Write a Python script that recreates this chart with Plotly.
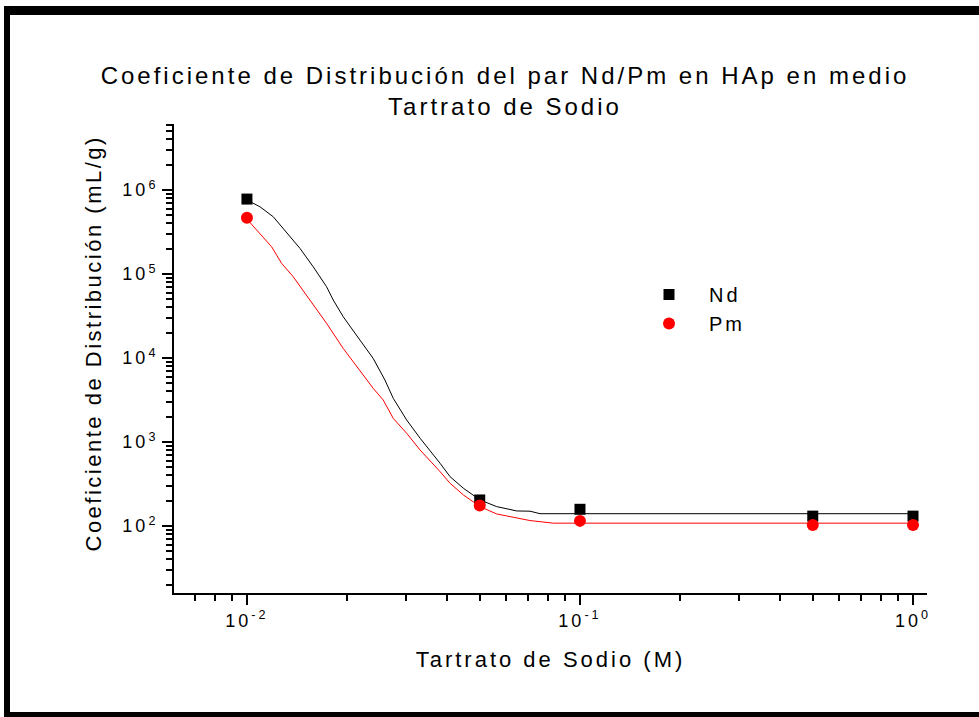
import plotly.graph_objects as go

# Measured points
conc = [0.01, 0.05, 0.1, 0.5, 1.0]
kd_nd = [7.8e5, 204, 158, 131, 131]
kd_pm = [4.68e5, 175, 115, 103, 103]

# Fitted curves
fit_nd_x = [0.01, 0.01094, 0.01199, 0.01286, 0.01443, 0.01581, 0.01734, 0.01816, 0.01946,
            0.02183, 0.02393, 0.02596, 0.02750, 0.03017, 0.03310, 0.03802, 0.04074, 0.04467,
            0.05012, 0.05623, 0.06457, 0.07080, 0.07586, 1.0]
fit_nd_y = [7.6e5, 6.32e5, 4.81e5, 3.50e5, 2.02e5, 1.22e5, 7.06e4, 4.90e4, 3.10e4,
            1.64e4, 9.91e3, 5.47e3, 3.31e3, 1.83e3, 1.11e3, 557, 386, 281,
            204, 170, 151, 150, 140, 140]
fit_pm_x = [0.01, 0.01094, 0.01186, 0.01271, 0.01377, 0.01545, 0.01734, 0.01946, 0.02183,
            0.02393, 0.02566, 0.02750, 0.03017, 0.03310, 0.03802, 0.04074, 0.04467, 0.05012,
            0.05623, 0.07080, 0.08318, 1.0]
fit_pm_y = [4.5e5, 3.06e5, 2.11e5, 1.34e5, 9.29e4, 4.90e4, 2.59e4, 1.30e4, 7.20e3,
            4.36e3, 3.16e3, 1.91e3, 1.27e3, 803, 443, 322, 234, 170,
            139, 116, 108, 108]

# Tick labels
x_tickvals = [0.01, 0.1, 1.0]
x_ticktext = ["10<sup>-2</sup>", "10<sup>-1</sup>", "10<sup>0</sup>"]
y_tickvals = [1e2, 1e3, 1e4, 1e5, 1e6]
y_ticktext = ["10<sup>2</sup>", "10<sup>3</sup>", "10<sup>4</sup>", "10<sup>5</sup>", "10<sup>6</sup>"]

FONT = "Liberation Sans, Arial, sans-serif"

fig = go.Figure()
fig.add_trace(go.Scatter(x=fit_nd_x, y=fit_nd_y, mode="lines", line=dict(color="black", width=1),
                         showlegend=False, hoverinfo="skip"))
fig.add_trace(go.Scatter(x=fit_pm_x, y=fit_pm_y, mode="lines", line=dict(color="red", width=1),
                         showlegend=False, hoverinfo="skip"))
fig.add_trace(go.Scatter(x=conc, y=kd_nd, mode="markers", name="Nd",
                         marker=dict(symbol="square", size=11, color="black")))
fig.add_trace(go.Scatter(x=conc, y=kd_pm, mode="markers", name="Pm",
                         marker=dict(symbol="circle", size=12, color="red")))

L, R, T, B = 174, 52, 124, 124
W, H = 979, 717
pw, ph = W - L - R, H - T - B
def px(x):
    return (x - L) / pw
def py(y):
    return (H - B - y) / ph

shapes = [
    dict(type="rect", xref="paper", yref="paper", x0=px(4), x1=px(985), y0=py(15), y1=py(6),
         fillcolor="black", line=dict(width=0)),
    dict(type="rect", xref="paper", yref="paper", x0=px(4), x1=px(10), y0=py(722), y1=py(6),
         fillcolor="black", line=dict(width=0)),
    dict(type="rect", xref="paper", yref="paper", x0=px(4), x1=px(985), y0=py(722), y1=py(712),
         fillcolor="black", line=dict(width=0)),
]

fig.update_layout(
    width=W, height=H,
    margin=dict(l=L, r=R, t=T, b=B, autoexpand=False),
    paper_bgcolor="white", plot_bgcolor="white",
    font=dict(family=FONT, color="black"),
    title=dict(text="Coeficiente de Distribución del par Nd/Pm en HAp en medio<br>Tartrato de Sodio",
               x=px(505), xref="paper", xanchor="center",
               y=1 - 84 / H, yref="container", yanchor="top",
               font=dict(size=24, family=FONT)),
    showlegend=True,
    legend=dict(x=px(629), y=py(275), xanchor="left", yanchor="top",
                font=dict(size=20, family=FONT), bgcolor="rgba(0,0,0,0)",
                itemwidth=70, tracegroupgap=0),
    shapes=shapes,
    annotations=[dict(text="Coeficiente de Distribución (mL/g)", textangle=-90,
                      xref="paper", yref="paper", x=px(93), y=py(344),
                      xanchor="center", yanchor="middle", showarrow=False,
                      font=dict(size=22, family=FONT))],
    hovermode=False,
)
fig.update_xaxes(type="log", range=[-2.219, 0.042], showline=True, linewidth=2, linecolor="black",
                 showgrid=False, zeroline=False, ticks="outside", ticklen=10, tickwidth=2,
                 tickcolor="black", tickmode="array", tickvals=x_tickvals, ticktext=x_ticktext,
                 tickfont=dict(size=18, family=FONT), automargin=False,
                 minor=dict(ticks="outside", ticklen=6, tickwidth=2, tickcolor="black", dtick="D1", showgrid=False),
                 title=dict(text="Tartrato de Sodio (M)", font=dict(size=22, family=FONT), standoff=22))
fig.update_yaxes(type="log", range=[1.202, 6.786], showline=True, linewidth=2, linecolor="black",
                 showgrid=False, zeroline=False, ticks="outside", ticklen=10, tickwidth=2,
                 tickcolor="black", tickmode="array", tickvals=y_tickvals, ticktext=y_ticktext,
                 tickfont=dict(size=18, family=FONT), automargin=False,
                 minor=dict(ticks="outside", ticklen=6, tickwidth=2, tickcolor="black", dtick="D1", showgrid=False))

post = """
document.body.style.margin = '0';
var gd = document.getElementById('{plot_id}');
function ls(sel, v) { gd.querySelectorAll(sel).forEach(function (e) { e.style.letterSpacing = v; }); }
ls('.gtitle', '3px');
ls('.xtitle', '3px');
ls('.annotation-text', '2.5px');
ls('.xtick text', '3px');
ls('.ytick text', '3px');
ls('.legendtext', '3px');
"""

fig.write_html("out.html", post_script=post, config={"displayModeBar": False})
